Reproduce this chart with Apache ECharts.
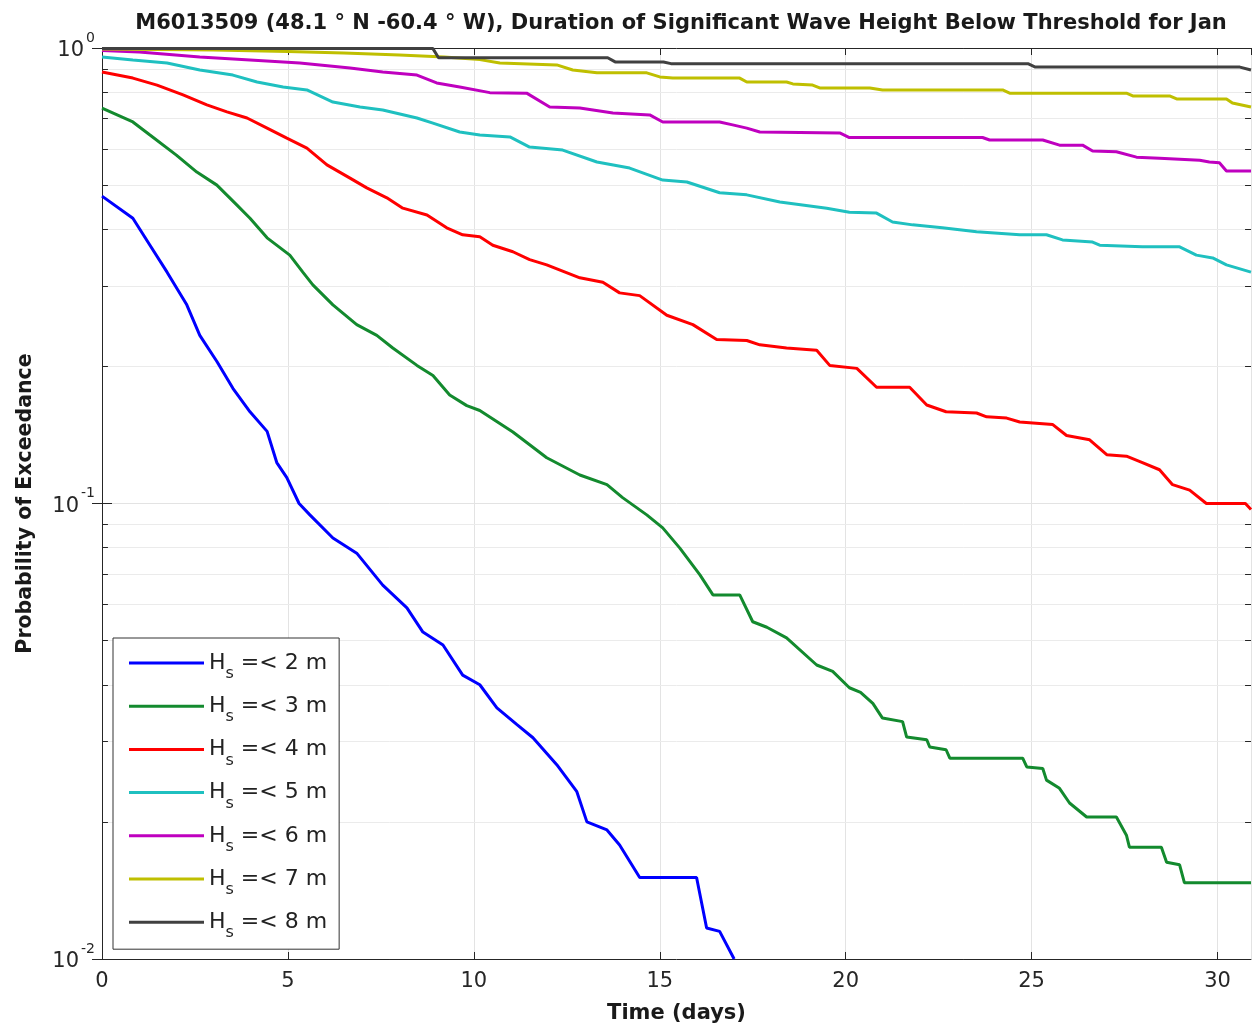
<!DOCTYPE html>
<html>
<head>
<meta charset="utf-8">
<script src="https://cdn.jsdelivr.net/npm/echarts@6/dist/echarts.min.js"></script>
<style>
  html, body { margin: 0; padding: 0; background: #fff; }
  #chart { width: 1253px; height: 1027px; }
</style>
</head>
<body>
<div id="chart"></div>
<script>
// duration curves, [day, probability of exceedance]
const hs2 = [[0,0.473],[0.83,0.423],[1.29,0.369],[1.75,0.322],[2.28,0.273],[2.63,0.234],[3.09,0.205],[3.52,0.179],[3.98,0.159],[4.44,0.144],[4.7,0.123],[4.97,0.114],[5.3,0.1],[5.59,0.0944],[6.21,0.084],[6.85,0.0778],[7.55,0.0662],[8.2,0.059],[8.63,0.0522],[9.17,0.0489],[9.7,0.042],[10.16,0.04],[10.62,0.0356],[11.16,0.0327],[11.59,0.0306],[12.23,0.0267],[12.77,0.0233],[13.04,0.02],[13.58,0.0192],[13.92,0.0178],[14.46,0.0151],[15.99,0.0151],[16.26,0.0117],[16.61,0.0115],[17.0,0.01]];
const hs3 = [[0,0.738],[0.83,0.688],[1.29,0.644],[2.0,0.582],[2.55,0.534],[3.09,0.5],[3.63,0.452],[3.98,0.423],[4.44,0.383],[5.05,0.351],[5.4,0.322],[5.67,0.302],[6.21,0.273],[6.85,0.247],[7.39,0.234],[7.82,0.2195],[8.47,0.201],[8.9,0.191],[9.35,0.173],[9.81,0.164],[10.16,0.16],[11.05,0.1435],[11.96,0.126],[12.85,0.1155],[13.58,0.11],[14.0,0.103],[14.65,0.0944],[15.08,0.0884],[15.54,0.0798],[16.08,0.0697],[16.43,0.063],[17.15,0.063],[17.5,0.055],[17.88,0.0535],[18.41,0.0507],[19.22,0.0442],[19.65,0.0428],[20.1,0.0394],[20.4,0.0385],[20.73,0.0364],[20.99,0.0338],[21.53,0.0332],[21.64,0.0307],[22.18,0.0303],[22.26,0.0292],[22.7,0.0288],[22.8,0.0276],[24.76,0.0276],[24.87,0.0264],[25.3,0.0262],[25.4,0.0247],[25.75,0.0237],[26.02,0.022],[26.48,0.0205],[27.28,0.0205],[27.55,0.0187],[27.63,0.0176],[28.49,0.0176],[28.63,0.0163],[28.98,0.0161],[29.11,0.0147],[30.9,0.0147]];
const hs4 = [[0,0.886],[0.83,0.859],[1.48,0.829],[2.18,0.789],[2.82,0.75],[3.36,0.724],[3.9,0.702],[4.44,0.667],[4.97,0.634],[5.51,0.603],[6.05,0.554],[6.67,0.518],[7.12,0.493],[7.66,0.469],[8.09,0.445],[8.74,0.43],[9.27,0.403],[9.7,0.389],[10.16,0.385],[10.51,0.369],[11.05,0.357],[11.5,0.343],[11.96,0.334],[12.85,0.313],[13.47,0.306],[13.92,0.29],[14.46,0.286],[15.19,0.259],[15.89,0.247],[16.53,0.229],[17.34,0.228],[17.69,0.223],[18.41,0.2195],[19.22,0.217],[19.57,0.201],[20.3,0.198],[20.83,0.18],[21.72,0.18],[22.18,0.1645],[22.7,0.159],[23.52,0.158],[23.79,0.155],[24.33,0.154],[24.68,0.151],[25.57,0.149],[25.94,0.141],[26.56,0.138],[27.02,0.128],[27.55,0.127],[27.98,0.123],[28.44,0.1186],[28.79,0.11],[29.25,0.107],[29.7,0.1],[30.75,0.1],[30.9,0.097]];
const hs5 = [[0,0.955],[0.83,0.941],[1.75,0.927],[2.63,0.895],[3.52,0.872],[4.17,0.842],[4.87,0.821],[5.51,0.809],[6.21,0.761],[6.94,0.742],[7.55,0.731],[8.47,0.702],[8.9,0.684],[9.62,0.654],[10.16,0.644],[10.97,0.638],[11.5,0.606],[12.39,0.597],[13.31,0.562],[14.19,0.545],[15.08,0.513],[15.73,0.508],[16.61,0.481],[17.34,0.476],[18.23,0.459],[19.49,0.445],[20.1,0.436],[20.83,0.434],[21.26,0.415],[21.8,0.409],[22.6,0.403],[23.52,0.395],[24.68,0.389],[25.4,0.389],[25.83,0.379],[26.64,0.375],[26.83,0.369],[27.98,0.366],[28.98,0.366],[29.43,0.351],[29.87,0.346],[30.24,0.334],[30.9,0.322]];
const hs6 = [[0,0.988],[1,0.98],[2.63,0.955],[3.98,0.941],[5.32,0.927],[6.67,0.904],[7.55,0.886],[8.47,0.872],[9.0,0.838],[9.62,0.821],[10.43,0.798],[11.42,0.796],[12.04,0.742],[12.85,0.738],[13.74,0.72],[14.73,0.713],[15.08,0.688],[16.61,0.688],[16.96,0.678],[17.34,0.667],[17.69,0.654],[19.84,0.651],[20.1,0.636],[23.68,0.636],[23.87,0.628],[25.3,0.628],[25.75,0.612],[26.37,0.612],[26.64,0.594],[27.28,0.592],[27.82,0.576],[28.44,0.573],[29.52,0.567],[29.78,0.562],[30.05,0.56],[30.24,0.537],[30.9,0.537]];
const hs7 = [[0,0.995],[3,0.99],[5,0.983],[6.5,0.975],[8,0.965],[9.2,0.955],[10.16,0.943],[10.7,0.927],[12.23,0.918],[12.66,0.895],[13.31,0.882],[14.65,0.882],[15.0,0.864],[15.35,0.859],[17.15,0.859],[17.34,0.842],[18.41,0.842],[18.58,0.834],[19.11,0.829],[19.3,0.817],[20.65,0.817],[20.99,0.809],[24.22,0.809],[24.41,0.796],[27.55,0.796],[27.72,0.785],[28.71,0.785],[28.9,0.773],[30.24,0.773],[30.4,0.757],[30.9,0.742]];
const hs8 = [[0,0.997],[8.9,0.997],[9.05,0.952],[13.6,0.952],[13.8,0.932],[15.1,0.932],[15.3,0.924],[24.9,0.924],[25.1,0.908],[30.6,0.908],[30.9,0.895]];

const seriesNames = ['Hs =< 2 m', 'Hs =< 3 m', 'Hs =< 4 m', 'Hs =< 5 m', 'Hs =< 6 m', 'Hs =< 7 m', 'Hs =< 8 m'];
const seriesData = [hs2, hs3, hs4, hs5, hs6, hs7, hs8];
const colors = ['#0000ff', '#138a2e', '#ff0000', '#1fc0c0', '#bf00bf', '#bfbf00', '#404040'];
const xTicks = [0, 5, 10, 15, 20, 25, 30];
const minorY = [0.02,0.03,0.04,0.05,0.06,0.07,0.08,0.09,0.2,0.3,0.4,0.5,0.6,0.7,0.8,0.9];

const FONT = 'DejaVu Sans, Verdana, sans-serif';
const X_MAX = 30.9;

let chart = echarts.init(document.getElementById('chart'));

let series = seriesData.map((d, i) => ({
  name: seriesNames[i],
  type: 'line',
  data: d,
  symbol: 'none',
  lineStyle: { color: colors[i], width: 3 },
  itemStyle: { color: colors[i] },
  z: 3 + i
}));

// light minor grid lines + small minor ticks on both y axes
let gridLines = minorY.map(v => ({ yAxis: v }));
let minorTicks = [];
minorY.forEach(v => {
  minorTicks.push([{ coord: [0, v] }, { coord: [0.16, v] }]);
  minorTicks.push([{ coord: [X_MAX - 0.16, v] }, { coord: [X_MAX, v] }]);
});
series.push({
  name: 'grid',
  type: 'line',
  data: [],
  z: 1,
  silent: true,
  markLine: {
    z: 1,
    silent: true,
    symbol: 'none',
    label: { show: false },
    lineStyle: { color: '#ebebeb', width: 1, type: 'solid' },
    data: gridLines
  }
});
series.push({
  name: 'ticks',
  type: 'line',
  data: [],
  z: 10,
  silent: true,
  markLine: {
    silent: true,
    symbol: 'none',
    label: { show: false },
    lineStyle: { color: '#262626', width: 1, type: 'solid' },
    data: minorTicks
  }
});

let supLabel = function (v) {
  let e = Math.round(Math.log10(v));
  return '{b|10}{sup|' + e + '}';
};

let option = {
  backgroundColor: '#ffffff',
  animation: false,
  title: {
    text: 'M6013509 (48.1 \u00b0 N -60.4 \u00b0 W), Duration of Significant Wave Height Below Threshold for Jan',
    left: 676,
    textAlign: 'center',
    top: 8,
    textStyle: { fontFamily: FONT, fontSize: 21, fontWeight: 'bold', color: '#1a1a1a' }
  },
  grid: { left: 102, right: 2, top: 48, bottom: 68, containLabel: false, outerBoundsMode: 'none' },
  legend: {
    data: seriesNames,
    orient: 'vertical',
    left: 113,
    top: 638,
    icon: 'rect',
    itemWidth: 75,
    itemHeight: 3,
    itemGap: 13.2,
    padding: [14, 12, 8, 16],
    backgroundColor: '#ffffff',
    borderColor: '#333333',
    borderWidth: 1,
    borderRadius: 0,
    formatter: function (name) { return 'H{sub|s} ' + name.slice(3); },
    textStyle: {
      fontFamily: FONT, fontSize: 22, color: '#222',
      rich: {
        sub: { fontFamily: FONT, fontSize: 16, color: '#222', padding: [22, 0, 0, 0] }
      }
    }
  },
  xAxis: [{
    type: 'value',
    min: 0,
    max: X_MAX,
    interval: 5,
    name: 'Time (days)',
    nameLocation: 'middle',
    nameGap: 44,
    nameTextStyle: { fontFamily: FONT, fontSize: 21, fontWeight: 'bold', color: '#1a1a1a' },
    axisLine: { show: true, lineStyle: { color: '#262626', width: 1 } },
    axisTick: { show: true, inside: true, length: 7, lineStyle: { color: '#262626' } },
    axisLabel: {
      fontFamily: FONT, fontSize: 21, color: '#262626', margin: 12,
      showMaxLabel: false,
      formatter: function (v) { return xTicks.indexOf(v) >= 0 ? String(v) : ''; }
    },
    splitLine: { show: true, lineStyle: { color: '#e3e3e3', width: 1 } }
  }, {
    type: 'value',
    position: 'top',
    min: 0,
    max: X_MAX,
    interval: 5,
    axisLine: { show: true, lineStyle: { color: '#262626', width: 1 } },
    axisTick: { show: true, inside: true, length: 7, lineStyle: { color: '#262626' } },
    axisLabel: { show: false },
    splitLine: { show: false }
  }],
  yAxis: [{
    type: 'log',
    logBase: 10,
    min: 0.01,
    max: 1,
    interval: 1,
    name: 'Probability of Exceedance',
    nameLocation: 'middle',
    nameGap: 66,
    nameRotate: 90,
    nameTextStyle: { fontFamily: FONT, fontSize: 20.5, fontWeight: 'bold', color: '#1a1a1a' },
    axisLine: { show: true, lineStyle: { color: '#262626', width: 1 } },
    axisTick: { show: true, inside: true, length: 10, lineStyle: { color: '#262626' } },
    axisLabel: {
      fontFamily: FONT, fontSize: 21, color: '#262626', margin: 7,
      formatter: supLabel,
      rich: {
        b: { fontFamily: FONT, fontSize: 21, color: '#262626', padding: [6, 0, 0, 0] },
        sup: { fontFamily: FONT, fontSize: 14, color: '#262626', padding: [0, 0, 20, 2] }
      }
    },
    splitLine: { show: true, lineStyle: { color: '#e3e3e3', width: 1 } }
  }, {
    type: 'log',
    logBase: 10,
    min: 0.01,
    max: 1,
    interval: 1,
    position: 'right',
    axisLine: { show: true, lineStyle: { color: '#262626', width: 1 } },
    axisTick: { show: true, inside: true, length: 10, lineStyle: { color: '#262626' } },
    axisLabel: { show: false },
    splitLine: { show: false }
  }],
  series: series
};

chart.setOption(option);
</script>
</body>
</html>
